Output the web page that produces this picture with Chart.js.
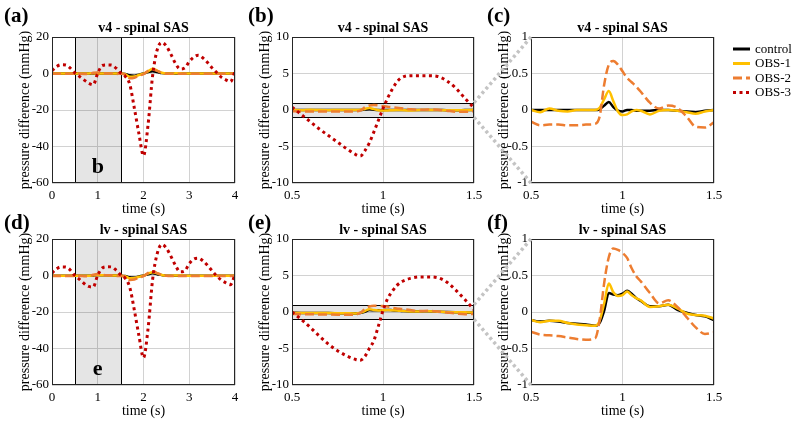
<!DOCTYPE html>
<html>
<head>
<meta charset="utf-8">
<script src="https://cdn.jsdelivr.net/npm/chart.js@4.4.0/dist/chart.umd.min.js"></script>
<style>
  body { margin: 0; width: 796px; height: 423px; position: relative; overflow: hidden; background: #fff; }
  canvas.p { position: absolute; }
  #ov { position: absolute; left: 0; top: 0; pointer-events: none; }
  .tag { position: absolute; font: bold 21px "Liberation Serif", serif; line-height: 21px; color: #000; }
</style>
</head>
<body>
<script>
// ---- data ----
const seriesNames = ['control', 'OBS-1', 'OBS-2', 'OBS-3'];
const seriesColors = ['#000000', '#FFC000', '#ED7D31', '#C00000'];
const seriesDash = [[], [], [9, 4], [3, 3.5]];
const seriesWidth = [2.5, 2.5, 2.5, 3];

const rowTitles = ['v4 - spinal SAS', 'lv - spinal SAS'];
const panelTags = [['(a)', '(b)', '(c)'], ['(d)', '(e)', '(f)']];
const boxTags = ['b', 'e'];
const zoomWindow = [0.5, 1.5];
const detailBand = [-1, 1];

const xTicksFull = [0, 1, 2, 3, 4];
const yTicksFull = [-60, -40, -20, 0, 20];
const xTicksZoom = [0.5, 1, 1.5];
const yTicksZoom = [-10, -5, 0, 5, 10];
const yTicksDetail = [-1, -0.5, 0, 0.5, 1];

const timeFull = [0, 0.1, 0.2, 0.3, 0.4, 0.5, 0.6, 0.7, 0.8, 0.9, 1, 1.1, 1.2, 1.3, 1.4,
  1.5, 1.6, 1.7, 1.8, 1.9, 2, 2.1, 2.2, 2.3, 2.4, 2.5, 2.6, 2.7, 2.8, 2.9, 3, 3.1, 3.2,
  3.3, 3.4, 3.5, 3.6, 3.7, 3.8, 3.9, 4];

const v4ControlFull = [0, 0, 0, 0, 0, 0, 0, 0, 0, 0.06, -0.02, -0.01, 0, -0.01, -0.03,
  0, -0.2, -1, -1.2, -0.6, 0, 0.8, 1.3, 0.8, 0.2, 0, 0, 0, 0, 0, 0, 0, 0, 0, 0, 0, 0, 0, 0, 0, 0];
const v4Obs1Full = [0, 0.01, -0.01, 0, 0, 0, 0.02, -0.02, 0, 0.15, -0.07, -0.01, -0.01, -0.01, -0.05,
  0, -0.4, -1.8, -1.6, -0.8, -0.1, 1.2, 2.6, 1.6, 0.4, 0, 0, 0.1, 0.1, 0, 0, 0, 0, 0, 0, 0, 0, 0, 0, 0, 0];
const v4Obs2Full = [-0.2, -0.2, -0.2, -0.2, -0.18, -0.16, -0.2, -0.21, -0.2, 0.35, 0.53, 0.25, 0.02, 0.03, -0.23,
  -0.17, -0.6, -2.6, -2.3, -1.2, -0.4, 1.5, 2.2, 1.4, 0.4, -0.1, -0.2, -0.2, -0.2, -0.2,
  -0.2, -0.2, -0.2, -0.2, -0.2, -0.2, -0.2, -0.2, -0.2, -0.2, -0.2];
const v4Obs3Full = [1.5, 3.8, 4.8, 4.7, 3, 0.4, -1.6, -3.5, -5.3, -6.2, 0.2, 4.4, 4.7, 4.6, 2.9,
  0.3, -1.5, -6, -19, -33, -45, -28, -1, 13, 17, 15, 10.5, 5.5, 2.5, 3,
  6.5, 9, 10, 8.5, 6, 3, 0.5, -2, -3.5, -4.5, 1];

const lvControlFull = [-0.1, -0.1, -0.11, -0.1, -0.1, -0.11, -0.12, -0.15, -0.17, 0.02, 0.25, 0.15, 0.08, 0.03, -0.04,
  -0.11, -0.3, -1, -1.1, -0.5, 0, 0.7, 1.2, 0.7, 0.2, -0.1, -0.1, -0.1, -0.1, -0.1,
  -0.1, -0.1, -0.1, -0.1, -0.1, -0.1, -0.1, -0.1, -0.1, -0.1, -0.1];
const lvObs1Full = [-0.1, -0.12, -0.1, -0.11, -0.1, -0.11, -0.12, -0.15, -0.18, 0.12, 0.23, 0.16, 0.08, 0.05, -0.04,
  -0.09, -0.4, -1.5, -1.4, -0.7, -0.1, 1, 1.8, 1.2, 0.3, -0.1, -0.1, 0, 0, -0.1,
  -0.1, -0.1, -0.1, -0.1, -0.1, -0.1, -0.1, -0.1, -0.1, -0.1, -0.1];
const lvObs2Full = [-0.3, -0.3, -0.3, -0.3, -0.28, -0.27, -0.32, -0.35, -0.38, 0.4, 0.81, 0.42, 0.12, 0.07, -0.21,
  -0.28, -0.7, -2.4, -2.2, -1.1, -0.4, 1.4, 2.3, 1.3, 0.3, -0.2, -0.3, -0.3, -0.3, -0.3,
  -0.3, -0.3, -0.3, -0.3, -0.3, -0.3, -0.3, -0.3, -0.3, -0.3, -0.3];
const lvObs3Full = [1.3, 3.7, 4.7, 4.6, 3, 0, -2.1, -4.4, -6, -6.3, 0.2, 4.1, 4.8, 4.7, 3,
  0.3, -1.5, -6.5, -19, -33, -45, -29, -2, 12, 17, 15, 10.5, 5.5, 2, 2.5,
  6.5, 9, 9.5, 8, 5.5, 2.5, -0.3, -2.5, -4, -5, 0.4];

const timeZoom = [0.5, 0.55, 0.6, 0.65, 0.7, 0.75, 0.8, 0.85, 0.875, 0.9, 0.925, 0.95, 0.975,
  1, 1.025, 1.05, 1.075, 1.1, 1.15, 1.2, 1.25, 1.3, 1.35, 1.4, 1.45, 1.5];

const v4ControlZoom = [0, 0, 0, 0, 0, 0, 0, 0, 0.01, 0.06, 0.11, 0.04, -0.01,
  -0.02, 0, 0, -0.01, -0.01, -0.01, 0, 0, -0.01, -0.02, -0.03, -0.01, 0];
const v4Obs1Zoom = [0, -0.03, 0.02, -0.01, -0.02, 0, 0, 0, 0.03, 0.15, 0.26, 0.12, -0.02,
  -0.07, -0.06, -0.02, 0, -0.01, -0.06, -0.01, 0, -0.01, -0.03, -0.05, -0.02, 0];
const v4Obs2Zoom = [-0.16, -0.21, -0.2, -0.2, -0.21, -0.21, -0.2, -0.19, -0.09, 0.35, 0.62, 0.67, 0.62,
  0.53, 0.44, 0.38, 0.32, 0.25, 0.1, 0.02, 0.06, 0.03, -0.09, -0.23, -0.24, -0.17];
const v4Obs3Zoom = [0.4, -0.6, -1.6, -2.6, -3.5, -4.4, -5.3, -6.1, -6.3, -5.6, -4.5, -3.0, -1.4,
  0.2, 1.6, 2.8, 3.8, 4.4, 4.7, 4.7, 4.7, 4.6, 4.0, 3.0, 1.6, 0.3];

const lvControlZoom = [-0.11, -0.13, -0.12, -0.13, -0.15, -0.16, -0.17, -0.19, -0.15, 0.02, 0.26, 0.24, 0.23,
  0.25, 0.29, 0.25, 0.19, 0.15, 0.08, 0.08, 0.1, 0.03, -0.01, -0.04, -0.06, -0.11];
const lvObs1Zoom = [-0.11, -0.14, -0.12, -0.12, -0.15, -0.17, -0.18, -0.19, -0.12, 0.12, 0.39, 0.27, 0.22,
  0.23, 0.28, 0.23, 0.19, 0.16, 0.07, 0.08, 0.1, 0.05, -0.02, -0.04, -0.05, -0.09];
const lvObs2Zoom = [-0.27, -0.31, -0.32, -0.33, -0.35, -0.37, -0.38, -0.36, -0.11, 0.4, 0.75, 0.87, 0.85,
  0.81, 0.74, 0.6, 0.49, 0.42, 0.26, 0.12, 0.16, 0.07, -0.07, -0.21, -0.3, -0.28];
const lvObs3Zoom = [0, -1.0, -2.1, -3.3, -4.4, -5.3, -6.0, -6.5, -6.6, -6.1, -5.0, -3.9, -1.9,
  0.2, 1.8, 2.8, 3.6, 4.1, 4.6, 4.8, 4.8, 4.7, 4.1, 3.0, 1.7, 0.3];

// ---- layout ----
const SERIF = '"Liberation Serif", "Times New Roman", serif';
const CW = 250, CH = 220, YAXIS_W = 52, XAXIS_H = 37, TOP_PAD = 37;
const cols = [{ left: 0, plotW: 183 }, { left: 240, plotW: 182 }, { left: 479, plotW: 183 }];
const rows = [{ top: 0, tagTop: 5 }, { top: 202, tagTop: 212 }];

Chart.defaults.color = '#000';
Chart.defaults.font.family = SERIF;

function lineSets(time, arrays) {
  return arrays.map((arr, i) => arr && {
    label: seriesNames[i],
    data: time.map((t, k) => ({ x: t, y: arr[k] })),
    borderColor: seriesColors[i],
    borderDash: seriesDash[i],
    borderWidth: seriesWidth[i],
    pointRadius: 0,
    fill: false,
    cubicInterpolationMode: 'monotone',
    order: 3 - i
  }).filter(Boolean);
}

const framePlugin = {
  id: 'frame',
  beforeDatasetsDraw(chart, args, opts) {
    const { ctx, chartArea: a, scales: { x, y } } = chart;
    ctx.save();
    ctx.fillStyle = 'rgba(0,0,0,0.1)';
    ctx.strokeStyle = '#000';
    ctx.lineWidth = 1;
    if (opts.xBand) {
      const x0 = Math.round(x.getPixelForValue(opts.xBand[0])) + 0.5;
      const x1 = Math.round(x.getPixelForValue(opts.xBand[1])) + 0.5;
      ctx.fillRect(x0, a.top, x1 - x0, a.bottom - a.top);
      ctx.beginPath();
      ctx.moveTo(x0, a.top); ctx.lineTo(x0, a.bottom);
      ctx.moveTo(x1, a.top); ctx.lineTo(x1, a.bottom);
      ctx.stroke();
    }
    if (opts.yBand) {
      const y0 = Math.round(y.getPixelForValue(opts.yBand[0])) + 0.5;
      const y1 = Math.round(y.getPixelForValue(opts.yBand[1])) + 0.5;
      ctx.fillRect(a.left, y1, a.right - a.left, y0 - y1);
      ctx.beginPath();
      ctx.moveTo(a.left, y0); ctx.lineTo(a.right, y0);
      ctx.moveTo(a.left, y1); ctx.lineTo(a.right, y1);
      ctx.stroke();
    }
    if (opts.tag) {
      ctx.fillStyle = '#000';
      ctx.font = 'bold 22px ' + SERIF;
      ctx.textAlign = 'center';
      ctx.textBaseline = 'alphabetic';
      ctx.fillText(opts.tag, x.getPixelForValue(opts.tagAt[0]), y.getPixelForValue(opts.tagAt[1]));
    }
    ctx.restore();
  },
  afterDatasetsDraw(chart, args, opts) {
    const { ctx, chartArea: a } = chart;
    ctx.save();
    ctx.strokeStyle = '#262626';
    ctx.lineWidth = 1;
    ctx.strokeRect(Math.round(a.left) + 0.5, Math.round(a.top) + 0.5,
      Math.round(a.right - a.left) - 1, Math.round(a.bottom - a.top) - 1);
    // panel title, centred over the plot area
    ctx.fillStyle = '#000';
    ctx.font = 'bold 14px ' + SERIF;
    ctx.textAlign = 'center';
    ctx.textBaseline = 'middle';
    ctx.fillText(opts.title, (a.left + a.right) / 2, a.top - 9);
    ctx.restore();
  }
};

function axis(min, max, ticks, extra) {
  return Object.assign({
    type: 'linear', min, max,
    afterBuildTicks: s => { s.ticks = ticks.map(v => ({ value: v })); },
    grid: { color: '#d2d2d2', lineWidth: 1, drawTicks: false },
    border: { display: false }
  }, extra);
}

function makePanel(r, c, datasets, xr, xt, yr, yt, frame) {
  const cv = document.createElement('canvas');
  cv.className = 'p';
  cv.width = CW; cv.height = CH;
  cv.style.left = cols[c].left + 'px';
  cv.style.top = rows[r].top + 'px';
  document.body.appendChild(cv);

  const tag = document.createElement('div');
  tag.className = 'tag';
  tag.textContent = panelTags[r][c];
  tag.style.left = (cols[c].left + [4, 8, 8][c]) + 'px';
  tag.style.top = rows[r].tagTop + 'px';
  document.body.appendChild(tag);

  frame.title = rowTitles[r];
  const chart = new Chart(cv, {
    type: 'line',
    data: { datasets },
    plugins: [framePlugin],
    options: {
      responsive: false,
      animation: false,
      events: [],
      layout: { padding: { left: 0, top: TOP_PAD, bottom: 0, right: CW - YAXIS_W - cols[c].plotW } },
      plugins: {
        legend: { display: false },
        tooltip: { enabled: false },
        title: { display: false },
        frame
      },
      scales: {
        x: axis(xr[0], xr[1], xt, {
          ticks: { callback: v => String(v), font: { size: 13, family: SERIF }, color: '#000', padding: 5, maxRotation: 0 },
          title: { display: true, text: 'time (s)', font: { size: 14, family: SERIF }, color: '#000',
                   padding: { top: 0, bottom: 2 } },
          afterFit: s => { s.height = XAXIS_H; s.paddingLeft = 0; s.paddingRight = 0; }
        }),
        y: axis(yr[0], yr[1], yt, {
          ticks: { callback: v => String(v), font: { size: 13, family: SERIF }, color: '#000', padding: 3 },
          title: { display: true, text: 'pressure difference (mmHg)', font: { size: 14, family: SERIF }, color: '#000',
                   padding: { top: 16.6, bottom: 0 } },
          afterFit: s => { s.width = YAXIS_W; s.paddingTop = 0; s.paddingBottom = 0; }
        })
      }
    }
  });
  chart.$off = { x: cols[c].left, y: rows[r].top };
  return chart;
}

const rowData = [
  { full: [v4ControlFull, v4Obs1Full, v4Obs2Full, v4Obs3Full],
    zoom: [v4ControlZoom, v4Obs1Zoom, v4Obs2Zoom, v4Obs3Zoom] },
  { full: [lvControlFull, lvObs1Full, lvObs2Full, lvObs3Full],
    zoom: [lvControlZoom, lvObs1Zoom, lvObs2Zoom, lvObs3Zoom] }
];

const pairs = [];
rowData.forEach((d, r) => {
  makePanel(r, 0, lineSets(timeFull, d.full), [0, 4], xTicksFull, [-60, 20], yTicksFull,
    { xBand: zoomWindow, tag: boxTags[r], tagAt: [1, -54.5] });
  const mid = makePanel(r, 1, lineSets(timeZoom, d.zoom), zoomWindow, xTicksZoom, [-10, 10], yTicksZoom,
    { yBand: detailBand });
  const det = makePanel(r, 2, lineSets(timeZoom, [d.zoom[0], d.zoom[1], d.zoom[2], null]), zoomWindow, xTicksZoom,
    detailBand, yTicksDetail, {});
  pairs.push([mid, det]);
});

// overlay: zoom connectors + legend
const ov = document.createElement('canvas');
ov.id = 'ov'; ov.width = 796; ov.height = 423;
document.body.appendChild(ov);
const g = ov.getContext('2d');

g.save();
g.strokeStyle = '#c4c4c4';
g.lineWidth = 3.5;
g.setLineDash([3, 3]);
pairs.forEach(([mid, det]) => {
  const sx = mid.$off.x + mid.scales.x.getPixelForValue(zoomWindow[1]);
  const da = det.chartArea;
  [[detailBand[1], da.top], [detailBand[0], da.bottom]].forEach(([v, ty]) => {
    g.beginPath();
    g.moveTo(sx, mid.$off.y + mid.scales.y.getPixelForValue(v));
    g.lineTo(det.$off.x + da.left, det.$off.y + ty);
    g.stroke();
  });
});
g.restore();

const LEG_X = 733, LEG_Y = 49, LEG_STEP = 14.5, LEG_LEN = 17;
seriesNames.forEach((name, i) => {
  const y = LEG_Y + i * LEG_STEP;
  g.save();
  g.strokeStyle = seriesColors[i];
  g.lineWidth = 3;
  g.setLineDash(seriesDash[i]);
  g.beginPath();
  g.moveTo(LEG_X, y); g.lineTo(LEG_X + LEG_LEN, y);
  g.stroke();
  g.restore();
  g.fillStyle = '#000';
  g.font = '13px ' + SERIF;
  g.textBaseline = 'middle';
  g.fillText(name, LEG_X + LEG_LEN + 5, y + 0.5);
});
</script>
</body>
</html>
